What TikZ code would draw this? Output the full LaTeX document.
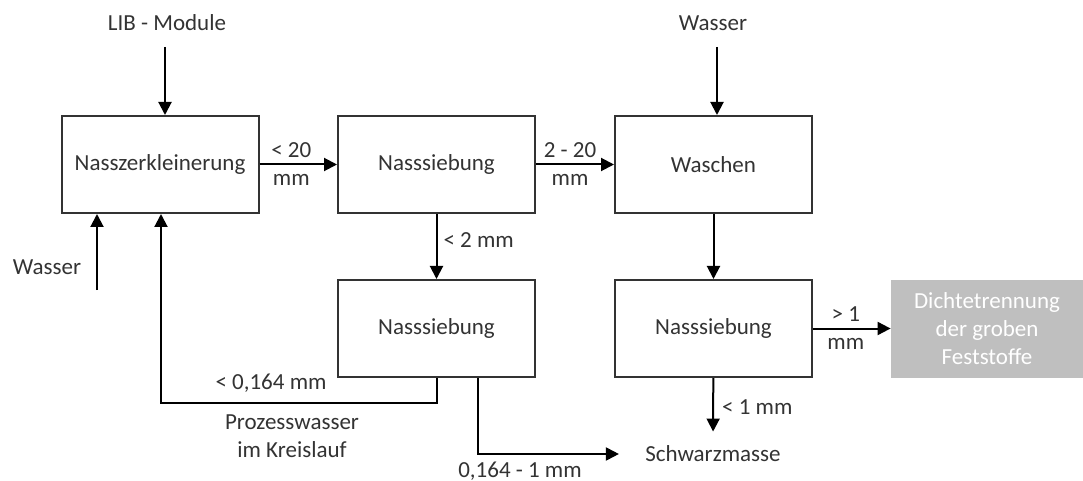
\documentclass[tikz,border=0pt]{standalone}
\usepackage{fontspec}
\setmainfont{Carlito}
\usetikzlibrary{arrows.meta}

\begin{document}
\begin{tikzpicture}[x=0.5pt, y=-0.5pt,
    font=\fontsize{11.5}{14}\selectfont, text=black!80,
    box/.style={draw=black!80, line width=1pt, minimum width=98.5pt, minimum height=48.5pt, inner sep=0pt},
    graybox/.style={fill=gray!50, text=white, minimum width=96pt, minimum height=49pt, inner sep=0pt, align=center},
    arr/.style={-{Triangle[length=6.5pt,width=6.5pt]}, line width=1pt},
    lbl/.style={inner sep=1pt, align=center}]
  \useasboundingbox (0,0) rectangle (1083,481);
  \node [box] (nz) at (160,164.5) {Nasszerkleinerung};
  \node [box] (s1) at (436.5,164.5) {Nasssiebung};
  \node [box] (wa) at (713.5,164.5) {Waschen};
  \node [box] (s2) at (436.5,328.5) {Nasssiebung};
  \node [box] (s3) at (713.5,328.5) {Nasssiebung};
  \node [graybox] (dt) at (987,328.5) {Dichtetrennung\\der groben\\Feststoffe};
  \node [lbl] (lib) at (167,23) {LIB - Module};
  \node [lbl] (w1) at (47,267) {Wasser};
  \node [lbl] (w2) at (713,23) {Wasser};
  \node [lbl] (schw) at (713,454) {Schwarzmasse};
  \coordinate (libin) at (165,47);
  \coordinate (w1in) at (97,290);
  \coordinate (w2in) at (717,47);
  \coordinate (rk) at (161,403);
  \draw[arr] (libin) -- (libin |- nz.north);
  \draw[arr] (w1in) -- (w1in |- nz.south);
  \draw[arr] (w2in) -- (w2in |- wa.north);
  \draw[arr] (nz) -- node[lbl, xshift=-3.5pt] {< 20\\mm} (s1);
  \draw[arr] (s1) -- node[lbl, xshift=-2.5pt] {2 - 20\\mm} (wa);
  \draw[arr] (s1) -- node[lbl, right=2pt, pos=0.4] {< 2 mm} (s2);
  \draw[arr] (wa) -- (s3);
  \draw[arr] (s3) -- node[lbl, xshift=-3pt] {> 1\\mm} (dt);
  \draw[arr, shorten >=6pt] (s3) -- node[lbl, right=3pt, pos=0.45] {< 1 mm} (schw);
  \draw[arr] (s2.south) |- (rk) -- (rk |- nz.south);
  \draw[arr] ([xshift=20.75pt]s2.south) |- ([xshift=-12pt]schw.west);
  \node [lbl] (rkl) at (271,383) {< 0,164 mm};
  \node [lbl] (pw) at (292,436) {Prozesswasser\\im Kreislauf};
  \node [lbl] (fl) at (520,471) {0,164 - 1 mm};
\end{tikzpicture}
\end{document}
